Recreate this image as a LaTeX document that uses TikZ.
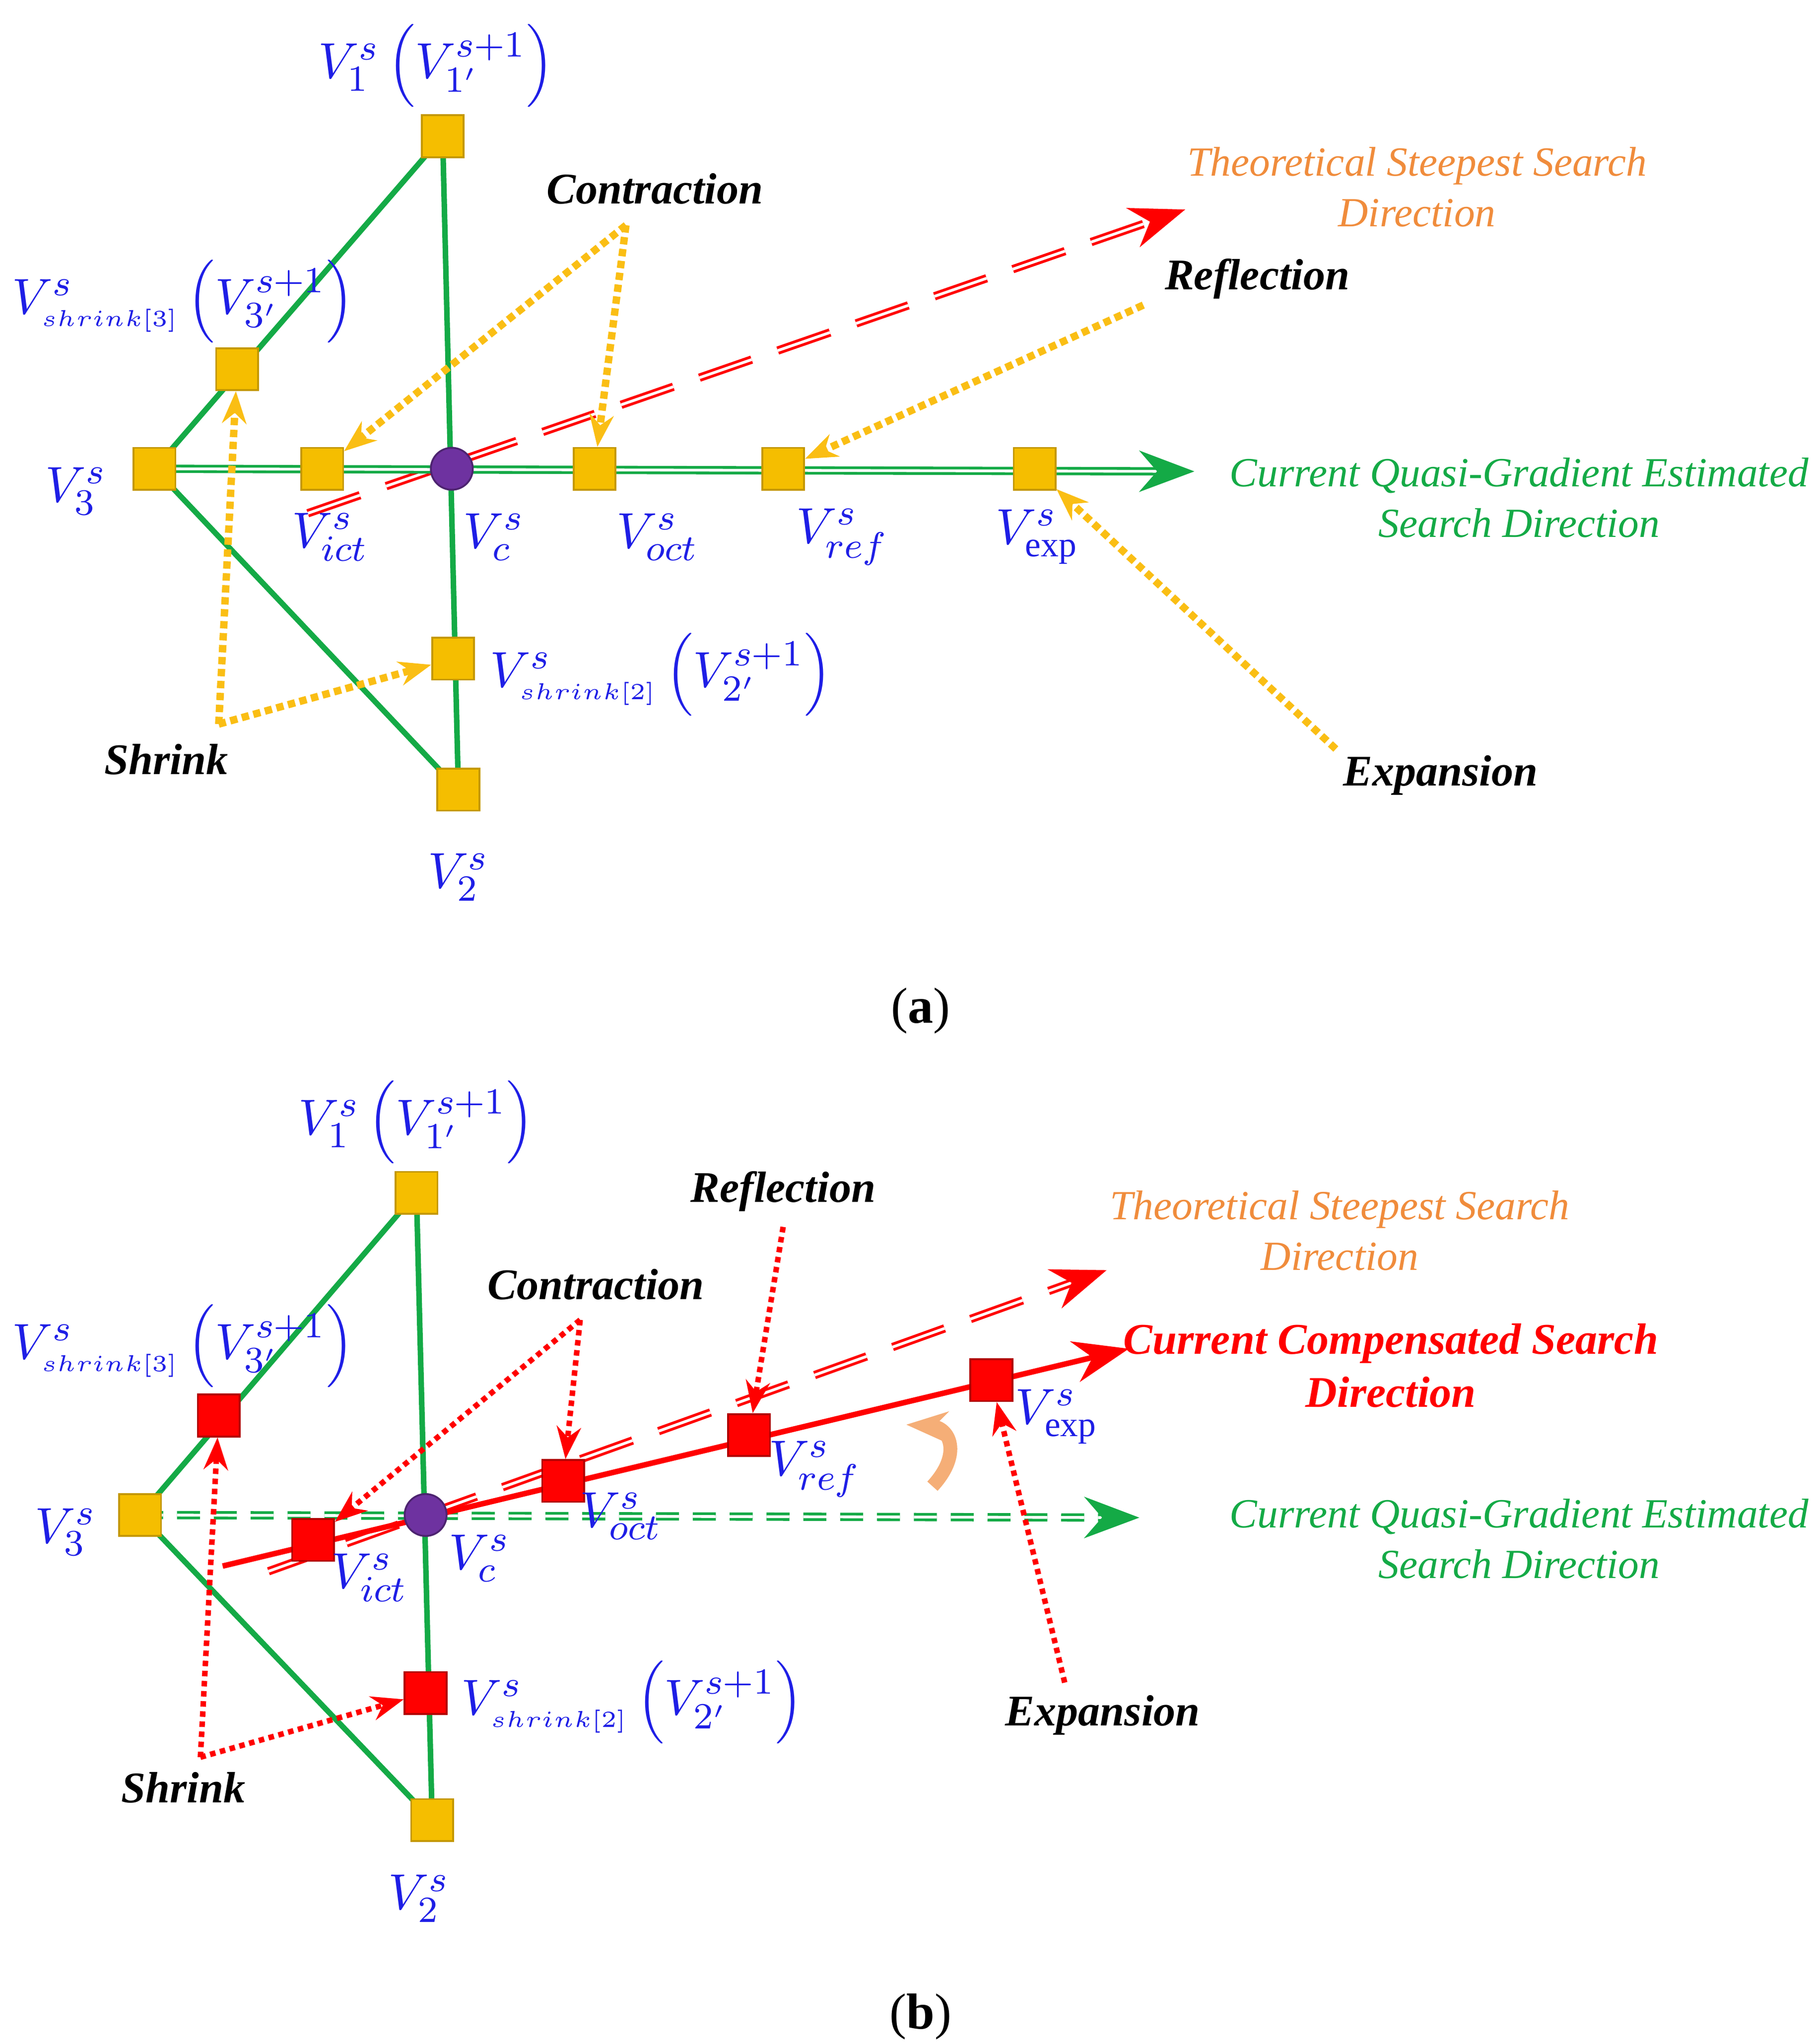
\documentclass[tikz,border=0pt]{standalone}
\usepackage{fontspec}
\setmainfont{Liberation Serif}
\usetikzlibrary{arrows.meta}
\definecolor{vblue}{RGB}{30,30,230}
\definecolor{sgreen}{RGB}{20,170,70}
\definecolor{gold}{RGB}{245,190,0}
\definecolor{dotgold}{RGB}{250,190,20}
\definecolor{torange}{RGB}{240,140,60}
\definecolor{vpurple}{RGB}{110,50,160}
\newcommand{\shr}[1]{{\scriptscriptstyle shrink[#1]}}
\begin{document}
\begin{tikzpicture}[x=0.01cm,y=-0.01cm,
  sq/.style={draw=gold!80!black,fill=gold,minimum size=0.32cm,inner sep=0pt},
  rsq/.style={draw=red!70!black,fill=red,minimum size=0.32cm,inner sep=0pt},
  ctr/.style={circle,draw=vpurple!70!black,fill=vpurple,minimum size=0.32cm,inner sep=0pt},
  vlab/.style={text=vblue,font=\fontsize{11}{13}\selectfont,inner sep=1pt},
  tag/.style={font=\fontsize{9.5}{11}\selectfont\bfseries\itshape},
  edge/.style={sgreen,line width=1.2pt},
  ydot/.style={dotgold,densely dotted,line width=1.6pt,-{Stealth[length=7pt]}},
  rdot/.style={red,densely dotted,line width=1.2pt,-{Stealth[length=7pt]}},
  dir/.style={font=\fontsize{9}{11}\selectfont\itshape,align=center}]
\useasboundingbox (0,0) rectangle (1385,1561);
% ---- panel (a)
\coordinate (ta) at (905,160);
\coordinate (ga) at (912,360);
\draw[red,double,dashed,dash pattern=on 12pt off 6pt,line width=0.6pt,-{Stealth[length=12pt]}] (235,392) -- (ta);
\draw[edge] (338,104) -- (118,358) -- (350,603) -- cycle;
\draw[edge,double,line width=0.6pt,-{Stealth[length=12pt]}] (118,358) -- (ga);
\node[sq] (a1) at (338,104) {};
\node[sq] (a3) at (118,358) {};
\node[sq] (a2) at (350,603) {};
\node[sq] (as3) at (181,282) {};
\node[sq] (as2) at (346,503) {};
\node[sq] (aict) at (246,358) {};
\node[sq] (aoct) at (454,358) {};
\node[sq] (aref) at (598,358) {};
\node[sq] (aexp) at (790,358) {};
\node[ctr] (ac) at (345,358) {};
\node[vlab] at (333,50) {$V_1^s\left(V_{1'}^{s+1}\right)$};
\node[vlab,anchor=west] at (5,230) {$V_\shr{3}^s\left(V_{3'}^{s+1}\right)$};
\node[vlab] at (58,375) {$V_3^s$};
\node[vlab] at (252,410) {$V_{ict}^s$};
\node[vlab] at (377,410) {$V_c^s$};
\node[vlab] at (502,410) {$V_{oct}^s$};
\node[vlab] at (643,410) {$V_{ref}^s$};
\node[vlab] at (792,410) {$V_{\exp}^s$};
\node[vlab] at (350,670) {$V_2^s$};
\node[vlab,anchor=west] at (370,515) {$V_\shr{2}^s\left(V_{2'}^{s+1}\right)$};
\node[tag] (acon) at (500,144) {Contraction};
\node[tag] (arfl) at (960,213) {Reflection};
\node[tag] (ashr) at (127,580) {Shrink};
\node[tag] (aexl) at (1100,592) {Expansion};
\node[dir,text=torange] at (1082,143) {Theoretical Steepest Search\\Direction};
\node[dir,text=sgreen] at (1160,380) {Current Quasi-Gradient Estimated\\Search Direction};
\coordinate (acf) at (478,172);
\draw[ydot] (acf) -- (aict);
\draw[ydot] (acf) -- (aoct);
\coordinate (arf) at (873,233);
\draw[ydot] (arf) -- (aref);
\coordinate (asf) at (167,553);
\draw[ydot] (asf) -- (as3);
\draw[ydot] (asf) -- (as2);
\coordinate (aef) at (1020,572);
\draw[ydot] (aef) -- (aexp);
\node[font=\fontsize{11}{13}\selectfont] at (703,772) {(\textbf{a})};
% ---- panel (b)
\draw[red,double,dashed,dash pattern=on 12pt off 6pt,line width=0.6pt,-{Stealth[length=12pt]}] (205,1200) -- (845,970);
\draw[edge] (318,911) -- (107,1157) -- (330,1390) -- cycle;
\draw[sgreen,double,dashed,dash pattern=on 5pt off 3pt,line width=0.6pt,-{Stealth[length=12pt]}] (107,1157) -- (870,1159);
\draw[red,line width=1.2pt,-{Stealth[length=12pt]}] (170,1196) -- (862,1030);
\node[sq] (b1) at (318,911) {};
\node[sq] (b3) at (107,1157) {};
\node[sq] (b2) at (330,1390) {};
\node[rsq] (bs3) at (167,1081) {};
\node[rsq] (bs2) at (325,1293) {};
\node[rsq] (bict) at (239,1176) {};
\node[rsq] (boct) at (430,1131) {};
\node[rsq] (bref) at (572,1096) {};
\node[rsq] (bexp) at (757,1054) {};
\node[ctr] (bc) at (325,1157) {};
\node[vlab] at (318,857) {$V_1^s\left(V_{1'}^{s+1}\right)$};
\node[vlab,anchor=west] at (5,1028) {$V_\shr{3}^s\left(V_{3'}^{s+1}\right)$};
\node[vlab] at (50,1170) {$V_3^s$};
\node[vlab] at (282,1205) {$V_{ict}^s$};
\node[vlab] at (366,1190) {$V_c^s$};
\node[vlab] at (474,1158) {$V_{oct}^s$};
\node[vlab] at (622,1122) {$V_{ref}^s$};
\node[vlab] at (807,1082) {$V_{\exp}^s$};
\node[vlab] at (320,1450) {$V_2^s$};
\node[vlab,anchor=west] at (348,1300) {$V_\shr{2}^s\left(V_{2'}^{s+1}\right)$};
\node[tag] (bcon) at (455,981) {Contraction};
\node[tag] (brfl) at (598,910) {Reflection};
\node[tag] (bshr) at (140,1365) {Shrink};
\node[tag] (bexl) at (842,1310) {Expansion};
\node[dir,text=torange] at (1023,940) {Theoretical Steepest Search\\Direction};
\node[dir,text=red,font=\fontsize{9.5}{11.5}\selectfont\bfseries\itshape] at (1062,1043) {Current Compensated Search\\Direction};
\node[dir,text=sgreen] at (1160,1175) {Current Quasi-Gradient Estimated\\Search Direction};
\coordinate (bcf) at (443,1008);
\draw[rdot] (bcf) -- (bict);
\draw[rdot] (bcf) -- (boct);
\coordinate (brf) at (598,937);
\draw[rdot] (brf) -- (bref);
\coordinate (bsf) at (153,1342);
\draw[rdot] (bsf) -- (bs3);
\draw[rdot] (bsf) -- (bs2);
\coordinate (bef) at (813,1285);
\draw[rdot] (bef) -- (bexp);
\coordinate (rot) at (712,1135);
\draw[torange!70,line width=3pt,-{Stealth[length=9pt]}] (rot) .. controls (735,1110) and (725,1090) .. (692,1088);
\node[font=\fontsize{11}{13}\selectfont] at (703,1540) {(\textbf{b})};
\end{tikzpicture}
\end{document}
